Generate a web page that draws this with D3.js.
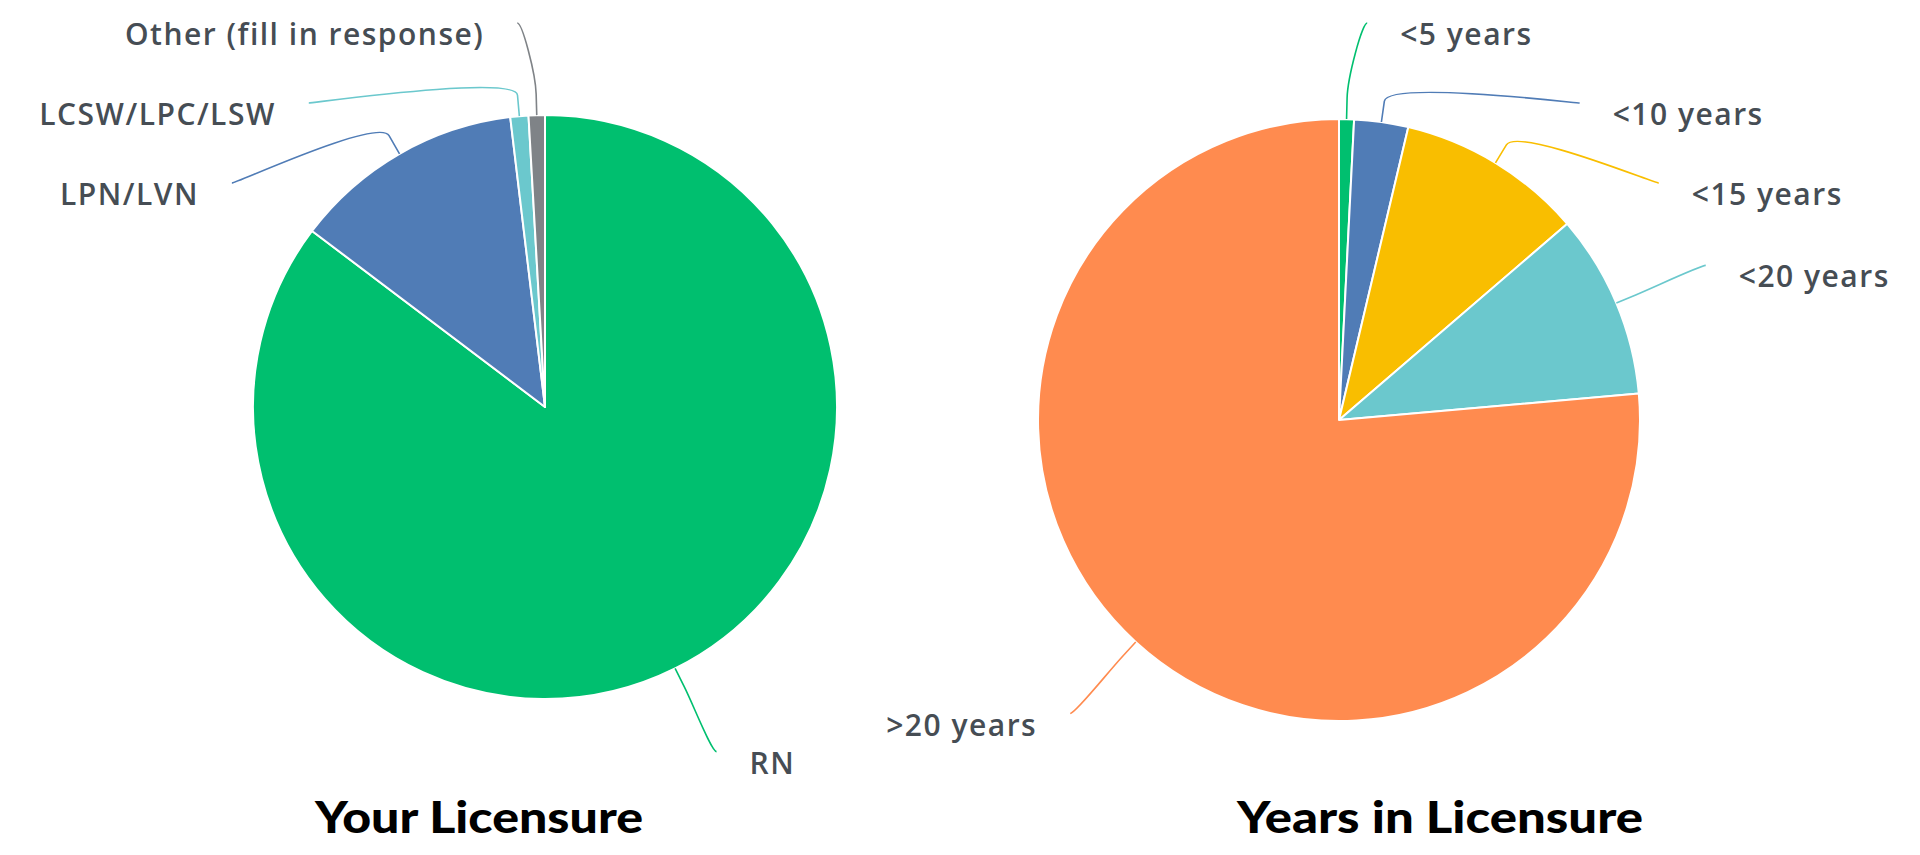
<!DOCTYPE html>
<html>
<head>
<meta charset="utf-8">
<script src="https://cdn.jsdelivr.net/npm/d3@7"></script>
<style>
  html, body { margin: 0; padding: 0; background: #fff; }
  #chart { width: 1920px; height: 855px; }
  .slice-label { font-family: "Open Sans", "DejaVu Sans", sans-serif; font-size: 30px; font-weight: 600; letter-spacing: 1.5px; fill: #464d54; }
  .chart-title { font-family: Lato, "DejaVu Sans", sans-serif; font-weight: 900; font-size: 44px; fill: #000; }
</style>
</head>
<body>
<div id="chart"></div>
<script>
// values (percent of respondents)
const licenseCategories = ["RN", "LPN/LVN", "LCSW/LPC/LSW", "Other (fill in response)"];
const licenseValues = [85.3, 12.8, 1.0, 0.9];
const licenseColors = ["#00bf6f", "#507cb6", "#6bc8cd", "#7f8387"];

const yearsCategories = ["<5 years", "<10 years", "<15 years", "<20 years", ">20 years"];
const yearsValues = [0.8, 2.9, 10.0, 9.9, 76.4];
const yearsColors = ["#00bf6f", "#507cb6", "#f9be00", "#6bc8cd", "#ff8b4f"];

const chartTitles = ["Your Licensure", "Years in Licensure"];

class PieChart {
  constructor(svg, config) {
    this.svg = svg;
    this.config = config;
    this.initParams();
    this.drawSlices();
    this.drawLabels();
    this.drawTitle();
  }

  initParams() {
    const c = this.config;
    this.data = c.categories.map((name, i) => ({name: name, value: c.values[i], color: c.colors[i]}));
    this.arcs = d3.pie().sort(null).value((o) => o.value)(this.data);
    this.arc = d3.arc().innerRadius(0).outerRadius(c.radius);
    this.group = this.svg.append("g")
      .attr("transform", "translate(" + c.cx + "," + c.cy + ")");
  }

  drawSlices() {
    this.group.selectAll(".slice").data(this.arcs)
      .enter()
      .append("path")
      .attr("class", "slice")
      .attr("d", this.arc)
      .attr("fill", (o) => o.data.color)
      .attr("stroke", "#fff")
      .attr("stroke-width", 2)
      .attr("stroke-linejoin", "round");
  }

  // highcharts-like outside labels: on a circle of radius r + distance, pushed apart per side
  layoutLabels() {
    const c = this.config;
    const R = c.radius + c.labelDistance;
    const items = this.arcs.map((d) => {
      const mid = (d.startAngle + d.endAngle) / 2;
      return {d: d, mid: mid, left: Math.sin(mid) < 0, y: -R * Math.cos(mid)};
    });
    [true, false].forEach((side) => {
      const half = items.filter((o) => o.left === side).sort((a, b) => a.y - b.y);
      let prev = -Infinity;
      half.forEach((o) => {
        o.y = Math.max(o.y, c.top - c.cy, prev + c.spacing);
        prev = o.y;
      });
    });
    items.forEach((o) => {
      o.x = (o.left ? -1 : 1) * Math.sqrt(Math.max(0, R * R - o.y * o.y));
    });
    return items;
  }

  drawLabels() {
    const c = this.config;
    const items = this.layoutLabels();
    const r = c.radius, co = c.connectorOffset;

    this.group.selectAll(".connector").data(items)
      .enter()
      .append("path")
      .attr("class", "connector")
      .attr("d", (o) => {
        const sx = Math.sin(o.mid), sy = -Math.cos(o.mid);
        const touch = [sx * r, sy * r];
        const brk = [sx * (r + co), sy * (r + co)];
        const p = d3.path();
        p.moveTo(o.x, o.y);
        p.bezierCurveTo(o.x + (o.left ? 5 : -5), o.y,
          2 * brk[0] - touch[0], 2 * brk[1] - touch[1],
          brk[0], brk[1]);
        p.lineTo(touch[0], touch[1]);
        return p.toString();
      })
      .attr("fill", "none")
      .attr("stroke", (o) => o.d.data.color)
      .attr("stroke-width", 1.6);

    this.group.selectAll(".slice-label").data(items)
      .enter()
      .append("text")
      .attr("class", "slice-label")
      .attr("x", (o) => o.x + (o.left ? -c.labelGap : c.labelGap))
      .attr("y", (o) => o.y + c.baselineShift)
      .attr("text-anchor", (o) => o.left ? "end" : "start")
      .text((o) => o.d.data.name);
  }

  drawTitle() {
    const c = this.config;
    this.svg.append("text")
      .attr("class", "chart-title")
      .attr("x", c.titleX)
      .attr("y", c.titleY)
      .attr("text-anchor", "middle")
      .attr("textLength", c.titleWidth)
      .attr("lengthAdjust", "spacingAndGlyphs")
      .text(c.title);
  }
}

const svg = d3.select("#chart").append("svg")
  .attr("width", 1920)
  .attr("height", 855);

new PieChart(svg, {
  categories: licenseCategories, values: licenseValues, colors: licenseColors, title: chartTitles[0],
  cx: 545, cy: 407, radius: 292,
  labelDistance: 93, connectorOffset: 21, top: 23, spacing: 80,
  labelGap: 33, baselineShift: 22,
  titleX: 479, titleY: 833, titleWidth: 328
});

new PieChart(svg, {
  categories: yearsCategories, values: yearsValues, colors: yearsColors, title: chartTitles[1],
  cx: 1339, cy: 420, radius: 301,
  labelDistance: 97, connectorOffset: 21, top: 23, spacing: 80,
  labelGap: 33, baselineShift: 22,
  titleX: 1440, titleY: 833, titleWidth: 406
});
</script>
</body>
</html>
